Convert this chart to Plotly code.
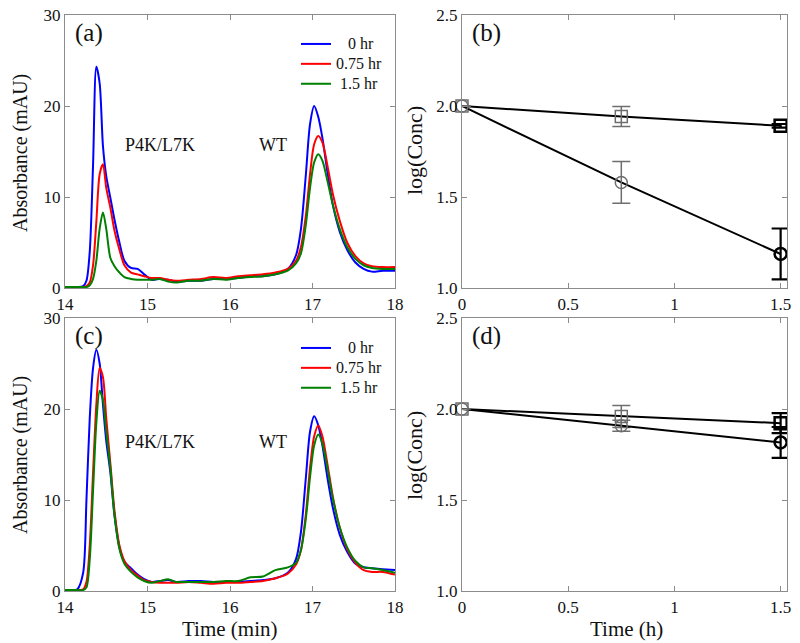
import plotly.graph_objects as go
from plotly.subplots import make_subplots

# ---------------- data ----------------
time_min = [14.0, 14.15, 14.22, 14.26, 14.30, 14.34, 14.38, 14.42, 14.46, 14.50,
            14.55, 14.60, 14.66, 14.72, 14.80, 14.88, 14.96, 15.05, 15.15, 15.25,
            15.35, 15.5, 15.65, 15.8, 15.95, 16.1, 16.25, 16.4, 16.55, 16.7,
            16.8, 16.86, 16.92, 16.97, 17.02, 17.07, 17.12, 17.18, 17.25, 17.33,
            17.42, 17.52, 17.62, 17.72, 17.85, 18.0]

a_0hr = [0.1, 0.1, 0.2, 0.8, 4.0, 13.5, 24.3, 22.5, 15.6, 12.3,
         9.9, 7.5, 5.0, 3.0, 2.2, 2.1, 1.5, 0.9, 1.0, 0.9,
         0.7, 0.8, 0.8, 1.0, 1.0, 1.1, 1.3, 1.3, 1.5, 2.1,
         3.6, 6.5, 12.5, 18.0, 20.0, 18.8, 16.5, 12.8, 9.0, 6.2,
         4.2, 2.8, 2.1, 1.8, 1.9, 1.9]
a_075hr = [0.1, 0.1, 0.1, 0.2, 0.6, 2.5, 7.3, 12.5, 13.6, 11.0,
           8.8, 6.3, 4.2, 2.5, 1.7, 1.5, 1.3, 1.1, 1.1, 0.9,
           0.8, 0.9, 1.0, 1.2, 1.1, 1.3, 1.4, 1.5, 1.7, 2.1,
           3.0, 4.5, 8.0, 12.5, 15.8, 16.7, 16.0, 13.5, 10.2, 7.4,
           5.0, 3.5, 2.7, 2.4, 2.3, 2.3]
a_15hr = [0.1, 0.1, 0.1, 0.1, 0.3, 1.0, 3.0, 6.5, 8.3, 6.5,
          3.3, 2.4, 1.7, 1.2, 1.0, 0.9, 0.9, 0.9, 1.0, 0.7,
          0.6, 0.8, 0.8, 1.0, 0.9, 1.1, 1.2, 1.3, 1.5, 1.9,
          2.7, 3.8, 7.0, 11.0, 13.8, 14.7, 14.0, 11.8, 9.0, 6.5,
          4.5, 3.2, 2.5, 2.2, 2.1, 2.1]

c_0hr = [0.1, 0.2, 2.0, 10.0, 19.0, 24.5, 26.5, 25.0, 20.5, 16.5,
         13.0, 8.3, 4.8, 3.2, 2.5, 1.8, 1.3, 1.0, 1.1, 1.2,
         1.0, 1.1, 1.1, 1.0, 1.0, 1.0, 1.1, 1.2, 1.4, 2.0,
         3.5, 6.5, 12.5, 17.5, 19.2, 18.2, 16.0, 12.5, 9.0, 6.2,
         4.3, 3.0, 2.6, 2.5, 2.4, 2.3]
c_075hr = [0.1, 0.1, 0.2, 1.0, 5.0, 13.0, 20.5, 24.5, 23.5, 19.0,
           14.0, 8.8, 5.0, 3.3, 2.3, 1.7, 1.2, 1.0, 0.9, 0.9,
           0.9, 1.0, 0.9, 0.8, 0.9, 0.9, 1.0, 1.1, 1.4, 1.9,
           2.9, 4.5, 8.5, 13.5, 17.0, 18.2, 17.0, 14.0, 10.2, 7.0,
           4.6, 3.1, 2.3, 2.1, 2.1, 1.8]
c_15hr = [0.1, 0.1, 0.1, 0.4, 3.5, 11.0, 18.5, 22.0, 21.0, 17.5,
          13.5, 8.3, 4.6, 3.0, 2.1, 1.5, 1.1, 0.9, 1.1, 1.3,
          1.0, 1.0, 1.0, 1.0, 1.1, 1.1, 1.5, 1.6, 2.3, 2.6,
          3.1, 4.5, 8.0, 12.5, 16.0, 17.2, 16.2, 13.5, 10.0, 7.0,
          4.8, 3.3, 2.6, 2.5, 2.3, 2.0]

series_names = ["\u00a0\u00a0\u00a00 hr", "0.75 hr", "\u00a01.5 hr"]
series_colors = ["#0000ff", "#ff0000", "#008000"]

time_h = [0, 0.75, 1.5]
b_square = [2.0, 1.942, 1.891]
b_square_err = [0.0, 0.055, 0.01]
b_circle = [2.0, 1.58, 1.187]
b_circle_err = [0.0, 0.115, 0.14]
d_square = [2.0, 1.959, 1.922]
d_square_err = [0.0, 0.06, 0.055]
d_circle = [2.0, 1.908, 1.816]
d_circle_err = [0.0, 0.03, 0.085]

panel_labels = ["(a)", "(b)", "(c)", "(d)"]
x_ticks_chrom = [14, 15, 16, 17, 18]
y_ticks_chrom = [0, 10, 20, 30]
x_ticks_conc = [0, 0.5, 1, 1.5]
x_ticktext_conc = ["0", "0.5", "1", "1.5"]
y_ticks_conc = [1.0, 1.5, 2.0, 2.5]

# ---------------- figure ----------------
W, H = 800, 643
FONT = "Liberation Serif"
TXT = "#111111"
fig = make_subplots(rows=2, cols=2)

chrom = [(1, [a_0hr, a_075hr, a_15hr], "legend"),
         (2, [c_0hr, c_075hr, c_15hr], "legend2")]
for row, ys, leg in chrom:
    for name, col, y in zip(series_names, series_colors, ys):
        fig.add_trace(go.Scatter(x=time_min, y=y, mode="lines",
                                 name="<span style='font-size:16px'>" + name + "</span>",
                                 line=dict(color=col, width=2, shape="spline", smoothing=0.8),
                                 legend=leg, showlegend=True), row=row, col=1)

GREY = "#6e6e6e"


def nz(errs):
    return [e if e > 0 else None for e in errs]


conc = [(1, [(b_square, b_square_err, "square-open"), (b_circle, b_circle_err, "circle-open")]),
        (2, [(d_square, d_square_err, "square-open"), (d_circle, d_circle_err, "circle-open")])]
for row, sets in conc:
    for vals, errs, sym in sets:
        fig.add_trace(go.Scatter(x=time_h, y=vals, mode="lines",
                                 line=dict(color="black", width=2), showlegend=False),
                      row=row, col=2)
        # faded points (0 and 0.75 h)
        fig.add_trace(go.Scatter(x=time_h[:2], y=vals[:2], mode="markers",
                                 marker=dict(symbol=sym, size=12, color=GREY,
                                             line=dict(color=GREY, width=1.5)),
                                 error_y=dict(type="data", array=nz(errs[:2]), color=GREY,
                                              thickness=1.5, width=9),
                                 cliponaxis=False, showlegend=False), row=row, col=2)
        # final point (1.5 h)
        fig.add_trace(go.Scatter(x=time_h[2:], y=vals[2:], mode="markers",
                                 marker=dict(symbol=sym, size=12, color="black",
                                             line=dict(color="black", width=2.5)),
                                 error_y=dict(type="data", array=nz(errs[2:]), color="black",
                                              thickness=2.2, width=9),
                                 cliponaxis=False, showlegend=False), row=row, col=2)

# domains in pixels
left_x = (65, 395)
right_x = (462, 787)
top_y = (15, 288)
bot_y = (318, 591)


def xd(p):
    return [p[0] / W, p[1] / W]


def yd(p):
    return [1 - p[1] / H, 1 - p[0] / H]


axis_common = dict(showgrid=False, zeroline=False, showline=True, linecolor="#8c8c8c",
                   linewidth=1.3, mirror="ticks", ticks="inside", ticklen=5,
                   tickcolor="#8c8c8c", tickwidth=1.2, automargin=False,
                   tickfont=dict(family=FONT, size=17, color=TXT))

fig.update_layout(
    xaxis=dict(domain=xd(left_x), range=[14, 18], tickvals=x_ticks_chrom, **axis_common),
    yaxis=dict(domain=yd(top_y), range=[0, 30], tickvals=y_ticks_chrom, **axis_common),
    xaxis2=dict(domain=xd(right_x), range=[0, 1.53], tickvals=x_ticks_conc,
                ticktext=x_ticktext_conc, **axis_common),
    yaxis2=dict(domain=yd(top_y), range=[1.0, 2.5], tickvals=y_ticks_conc,
                tickformat=".1f", **axis_common),
    xaxis3=dict(domain=xd(left_x), range=[14, 18], tickvals=x_ticks_chrom, **axis_common),
    yaxis3=dict(domain=yd(bot_y), range=[0, 30], tickvals=y_ticks_chrom, **axis_common),
    xaxis4=dict(domain=xd(right_x), range=[0, 1.53], tickvals=x_ticks_conc,
                ticktext=x_ticktext_conc, **axis_common),
    yaxis4=dict(domain=yd(bot_y), range=[1.0, 2.5], tickvals=y_ticks_conc,
                tickformat=".1f", **axis_common),
)

legend_common = dict(bgcolor="rgba(0,0,0,0)", borderwidth=0,
                     font=dict(family=FONT, size=13, color=TXT),
                     xanchor="left", yanchor="top", itemwidth=30, tracegroupgap=0)
fig.update_layout(
    legend=dict(x=296 / W, y=1 - 29 / H, **legend_common),
    legend2=dict(x=296 / W, y=1 - 333 / H, **legend_common),
)

annotations = []
label_pos = [(73, 33), (470, 33), (73, 336), (470, 336)]
for lab, (px, py) in zip(panel_labels, label_pos):
    annotations.append(dict(text=lab, x=px / W, y=1 - py / H, xref="paper", yref="paper",
                            xanchor="left", yanchor="middle", showarrow=False,
                            font=dict(family=FONT, size=25, color=TXT)))
# peak labels (data coordinates)
for xr, yr, yv in [("x", "y", 15.7), ("x3", "y3", 16.4)]:
    annotations.append(dict(text="P4K/L7K", x=15.15, y=yv, xref=xr, yref=yr, showarrow=False,
                            font=dict(family=FONT, size=18, color=TXT)))
    annotations.append(dict(text="WT", x=16.52, y=yv, xref=xr, yref=yr, showarrow=False,
                            font=dict(family=FONT, size=18, color=TXT)))
# axis titles
for txt, px, py, size in [("Absorbance (mAU)", 20, 153, 20), ("Absorbance (mAU)", 20, 455, 20),
                          ("log(Conc)", 414, 150, 22), ("log(Conc)", 414, 455, 22)]:
    annotations.append(dict(text=txt, x=px / W, y=1 - py / H, xref="paper", yref="paper",
                            textangle=-90, showarrow=False, xanchor="center", yanchor="middle",
                            font=dict(family=FONT, size=size, color=TXT)))
for txt, px, py in [("Time (min)", 229, 629), ("Time (h)", 626, 629)]:
    annotations.append(dict(text=txt, x=px / W, y=1 - py / H, xref="paper", yref="paper",
                            showarrow=False, xanchor="center", yanchor="middle",
                            font=dict(family=FONT, size=21, color=TXT)))

fig.update_layout(annotations=annotations, width=W, height=H,
                  margin=dict(l=0, r=0, t=0, b=0, autoexpand=False),
                  paper_bgcolor="white", plot_bgcolor="white",
                  font=dict(family=FONT))

fig.write_html("out.html", config={"displayModeBar": False},
               post_script="document.body.style.margin='0';document.body.style.overflow='hidden';")
